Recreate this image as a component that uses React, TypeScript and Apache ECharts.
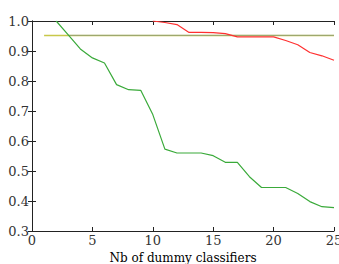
import React, { useEffect, useRef } from "react";
import * as echarts from "echarts";

const xGreen = [2, 3, 4, 5, 6, 7, 8, 9, 10, 11, 12, 13, 14, 15, 16, 17, 18, 19, 20, 21, 22, 23, 24, 25];
const greenValues = [1.0, 0.954, 0.907, 0.877, 0.86, 0.788, 0.771, 0.769, 0.688, 0.573, 0.56, 0.56, 0.56, 0.551, 0.529, 0.529, 0.481, 0.445, 0.445, 0.445, 0.425, 0.398, 0.381, 0.378];
const xRed = [10, 11, 12, 13, 14, 15, 16, 17, 18, 19, 20, 21, 22, 23, 24, 25];
const redValues = [1.0, 0.995, 0.988, 0.962, 0.962, 0.961, 0.958, 0.947, 0.947, 0.947, 0.947, 0.935, 0.921, 0.895, 0.884, 0.869];
const xYellow = [1, 25];
const yellowValues = [0.952, 0.952];
const xBlue = [3, 25];
const blueValues = [0.952, 0.952];
const xTicks = [0, 5, 10, 15, 20, 25];
const yTicks = [0.3, 0.4, 0.5, 0.6, 0.7, 0.8, 0.9, 1.0];

const pair = (xs: number[], ys: number[]) => xs.map((x, i) => [x, ys[i]]);
const FONT = "'DejaVu Serif', 'Liberation Serif', serif";

export default function App() {
  const ref = useRef<HTMLDivElement>(null);
  useEffect(() => {
    const chart = echarts.init(ref.current!, null, { renderer: "svg", width: 339, height: 264 });
    const axisLine = { show: true, lineStyle: { color: "#222", width: 1 } };
    chart.setOption({
      animation: false,
      grid: { left: 32, right: 5, top: 21, bottom: 33, containLabel: false, outerBoundsMode: "none" },
      xAxis: [
        {
          type: "value", min: xTicks[0], max: xTicks[xTicks.length - 1], interval: 5,
          axisLine, axisTick: { inside: true, length: 4, lineStyle: { color: "#222" } },
          axisLabel: { color: "#333", fontFamily: FONT, fontSize: 13, margin: 3 },
          splitLine: { show: false },
          name: "Nb of dummy classifiers", nameLocation: "middle", nameGap: 19,
          nameTextStyle: { color: "#000", fontFamily: FONT, fontSize: 12 },
        },
        {
          type: "value", position: "top", min: xTicks[0], max: xTicks[xTicks.length - 1], interval: 5,
          axisLine, axisTick: { inside: true, length: 4, lineStyle: { color: "#222" } },
          axisLabel: { show: false }, splitLine: { show: false },
        },
      ],
      yAxis: [
        {
          type: "value", min: yTicks[0], max: yTicks[yTicks.length - 1], interval: 0.1,
          axisLine, axisTick: { inside: true, length: 4, lineStyle: { color: "#222" } },
          axisLabel: { color: "#333", fontFamily: FONT, fontSize: 13, margin: 3, formatter: (v: number) => v.toFixed(1) },
          splitLine: { show: false },
        },
        {
          type: "value", position: "right", min: yTicks[0], max: yTicks[yTicks.length - 1], interval: 0.1,
          axisLine, axisTick: { inside: true, length: 4, lineStyle: { color: "#222" } },
          axisLabel: { show: false }, splitLine: { show: false },
        },
      ],
      series: [
        { type: "line", data: pair(xYellow, yellowValues), showSymbol: false, lineStyle: { color: "#c8c84a", width: 1.5 }, clip: true },
        { type: "line", data: pair(xBlue, blueValues), showSymbol: false, lineStyle: { color: "#4060c0", width: 1.2, opacity: 0.3 }, clip: true },
        { type: "line", data: pair(xGreen, greenValues), showSymbol: false, lineStyle: { color: "#3aaa3a", width: 1.2 }, clip: true },
        { type: "line", data: pair(xRed, redValues), showSymbol: false, lineStyle: { color: "#ff3030", width: 1.2 }, clip: true },
      ],
    });
    return () => chart.dispose();
  }, []);
  return <div ref={ref} style={{ width: 339, height: 264, position: "absolute", left: 0, top: 0, overflow: "hidden" }} />;
}
